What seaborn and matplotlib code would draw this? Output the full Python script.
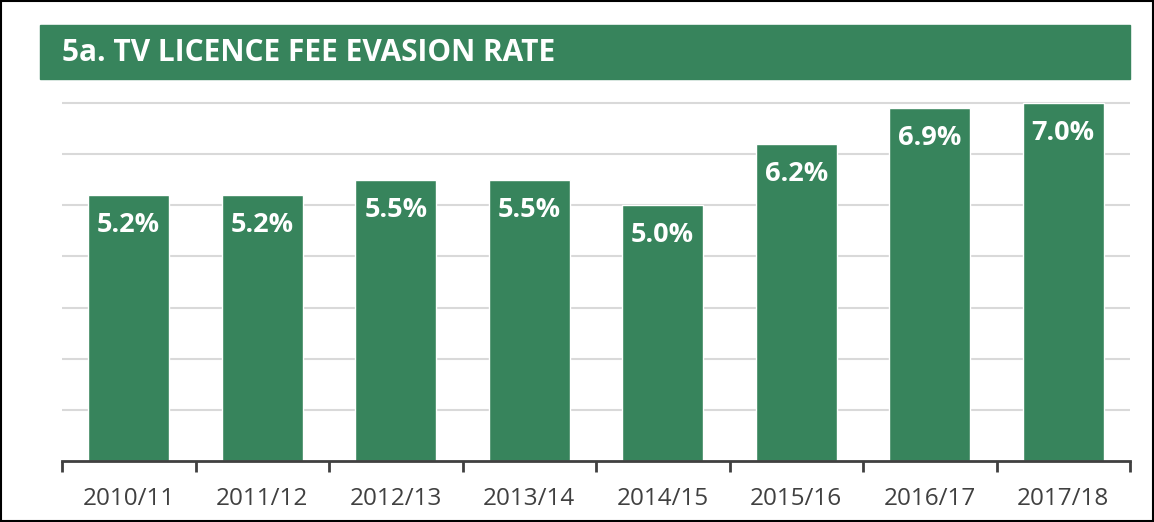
import matplotlib.pyplot as plt
import pandas as pd
import seaborn as sns
from matplotlib.patches import Rectangle

# Data
years = ['2010/11', '2011/12', '2012/13', '2013/14', '2014/15', '2015/16', '2016/17', '2017/18']
evasion = [5.2, 5.2, 5.5, 5.5, 5.0, 6.2, 6.9, 7.0]
labels = ['5.2%', '5.2%', '5.5%', '5.5%', '5.0%', '6.2%', '6.9%', '7.0%']

df = pd.DataFrame({'year': years, 'rate': evasion})

green = '#37845c'
dark = '#404040'

sns.set_style('white')
plt.rcParams['font.family'] = ['Open Sans', 'DejaVu Sans']

fig = plt.figure(figsize=(11.54, 5.22), dpi=100)
ax = fig.add_axes([62 / 1154, 1 - 461 / 522, 1068 / 1154, 7.05 * (358 / 7) / 522])

sns.barplot(data=df, x='year', y='rate', color=green, saturation=1, width=0.61, ax=ax)

ax.set_xlim(-0.5, len(years) - 0.5)
ax.set_ylim(0, 7.05)
ax.set_yticks(range(1, 8))
ax.set_yticklabels([])
ax.yaxis.grid(True, color='#d9d9d9', linewidth=1.5)
ax.set_axisbelow(True)
ax.tick_params(axis='y', length=0)

for s in ['top', 'right', 'left']:
    ax.spines[s].set_visible(False)
ax.spines['bottom'].set_color(dark)
ax.spines['bottom'].set_linewidth(2)

# ticks at category boundaries, labels at centres
ax.set_xticks([i - 0.5 for i in range(len(years) + 1)], minor=True)
ax.tick_params(axis='x', which='minor', bottom=True, length=8, width=2, color=dark, direction='out')
ax.tick_params(axis='x', which='major', bottom=True, length=0, pad=19, labelsize=17.5, labelcolor=dark)
ax.set_xlabel('')
ax.set_ylabel('')

for i, (v, t) in enumerate(zip(evasion, labels)):
    ax.annotate(t, (i, v), xytext=(0, -21.5), textcoords='offset points',
                ha='center', va='center', color='white', fontsize=19.5, fontweight='bold')

# title banner
fig.patches.append(Rectangle((40 / 1154, 1 - 79 / 522), 1090 / 1154, 54 / 522,
                             transform=fig.transFigure, color=green, zorder=0))
fig.text(62 / 1154, 1 - 53 / 522, '5a. TV LICENCE FEE EVASION RATE', color='white',
         fontsize=21.5, fontweight='bold', va='center', ha='left')

# outer border
fig.patches.append(Rectangle((0.001, 0.002), 0.998, 0.996, transform=fig.transFigure,
                             fill=False, edgecolor='black', linewidth=1.5))

fig.savefig('out.png', dpi=100)
